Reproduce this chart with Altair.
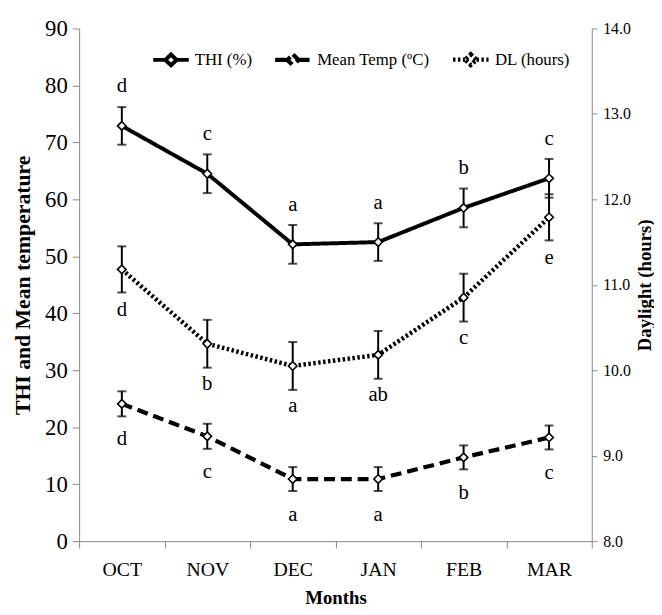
import altair as alt
import pandas as pd

months = ["OCT", "NOV", "DEC", "JAN", "FEB", "MAR"]
series_names = ["THI (%)", "Mean Temp (ºC)", "DL (hours)"]

thi = [72.9, 64.5, 52.1, 52.5, 58.5, 63.7]
thi_se = [3.3, 3.4, 3.4, 3.3, 3.4, 3.4]
thi_letters = ["d", "c", "a", "a", "b", "c"]

temp = [24.1, 18.4, 10.9, 10.9, 14.7, 18.2]
temp_se = [2.2, 2.2, 2.1, 2.1, 2.1, 2.1]
temp_letters = ["d", "c", "a", "a", "b", "c"]

dl = [11.18, 10.31, 10.05, 10.18, 10.85, 11.79]
dl_se = [0.27, 0.28, 0.28, 0.28, 0.28, 0.27]
dl_letters = ["d", "b", "a", "ab", "c", "e"]


def frame(name, vals, ses, letters):
    return pd.DataFrame({
        "month": months,
        "series": name,
        "value": vals,
        "lo": [v - s for v, s in zip(vals, ses)],
        "hi": [v + s for v, s in zip(vals, ses)],
        "letter": letters,
    })


left_df = pd.concat([frame(series_names[0], thi, thi_se, thi_letters),
                     frame(series_names[1], temp, temp_se, temp_letters)])
right_df = frame(series_names[2], dl, dl_se, dl_letters)

FONT = "Liberation Serif"
AX = "#888888"

x_enc = alt.X(
    "month:N", sort=months, bandPosition=0.5,
    scale=alt.Scale(type="band", paddingInner=0, paddingOuter=0),
    axis=alt.Axis(title="Months", tickBand="extent", labelAngle=0, labelFontSize=20,
                  titleFontSize=19, titleFontWeight="bold", tickSize=7, labelPadding=12,
                  titlePadding=9, domainColor=AX, tickColor=AX, labelColor="black",
                  labelFont=FONT, titleFont=FONT, titleColor="black"),
)

dash_scale = alt.Scale(domain=series_names, range=[[1, 0], [11, 6], [2.5, 2.5]])
width_scale = alt.Scale(domain=series_names, range=[4, 4.5, 3])

legend = alt.Legend(
    title=None, orient="none", direction="horizontal", legendX=73, legendY=11,
    symbolType="M -1 0 L -0.32 0 M 0.32 0 L 1 0 M 0 -0.3 L 0.32 0 L 0 0.3 L -0.32 0 Z",
    symbolSize=1296, symbolFillColor="white", symbolStrokeColor="black",
    labelFont=FONT, labelFontSize=17, labelColor="black", columnPadding=14,
    labelOffset=4,
)


def group(df, y_axis, y_scale, dys):
    base = alt.Chart(df)
    y = alt.Y("value:Q", scale=y_scale, axis=y_axis)
    line = base.mark_line(color="black", strokeCap="butt").encode(
        x=x_enc, y=y,
        strokeDash=alt.StrokeDash("series:N", scale=dash_scale, legend=legend),
        strokeWidth=alt.StrokeWidth("series:N", scale=width_scale, legend=legend),
        detail="series:N",
    )
    rule = base.mark_rule(color="black", strokeWidth=2).encode(
        x=x_enc, y=alt.Y("lo:Q"), y2="hi:Q")
    cap_lo = base.mark_tick(color="black", size=9, thickness=2).encode(x=x_enc, y=alt.Y("lo:Q"))
    cap_hi = base.mark_tick(color="black", size=9, thickness=2).encode(x=x_enc, y=alt.Y("hi:Q"))
    pts = base.mark_point(shape="diamond", filled=True, fill="white", stroke="black",
                          strokeWidth=1.6, size=75, opacity=1).encode(x=x_enc, y=alt.Y("value:Q"))
    layers = [line, rule, cap_lo, cap_hi, pts]
    for name, dy in dys.items():
        layers.append(
            base.transform_filter(alt.datum.series == name)
            .mark_text(font=FONT, fontSize=21, color="black", dy=dy, baseline="middle")
            .encode(x=x_enc, y=alt.Y("value:Q"), text="letter:N")
        )
    return alt.layer(*layers)


left_axis = alt.Axis(
    title="THI and Mean temperature", values=list(range(0, 91, 10)), grid=False,
    tickSize=7, labelFontSize=23, titleFontSize=22, titleFontWeight="bold",
    labelPadding=5, titlePadding=10, domainColor=AX, tickColor=AX, labelColor="black",
    labelFont=FONT, titleFont=FONT, titleColor="black",
)
right_axis = alt.Axis(
    title="Daylight (hours)", orient="right", values=[8, 9, 10, 11, 12, 13, 14],
    format=".1f", grid=False, tickSize=5, labelFontSize=16, titleFontSize=19,
    titleFontWeight="bold", titleAngle=270, titleBaseline="top", labelPadding=6,
    titlePadding=5, domainColor=AX, tickColor=AX, labelColor="black",
    labelFont=FONT, titleFont=FONT, titleColor="black",
)

left = group(left_df, left_axis, alt.Scale(domain=[0, 90], nice=False),
             {series_names[0]: -40, series_names[1]: 36})
right = group(right_df, right_axis, alt.Scale(domain=[8, 14], nice=False),
              {series_names[2]: 41})

chart = (
    alt.layer(left, right)
    .resolve_scale(y="independent")
    .properties(width=519, height=519, padding={"left": 4, "top": 6, "right": 0, "bottom": 0})
    .configure(font=FONT)
    .configure_view(stroke=None)
    .configure_axis(labelFont=FONT, titleFont=FONT, titleColor="black")
    .configure_legend(labelFont=FONT)
    .configure_text(font=FONT)
)

chart.save("out.html", embed_options={"renderer": "svg", "actions": False})
